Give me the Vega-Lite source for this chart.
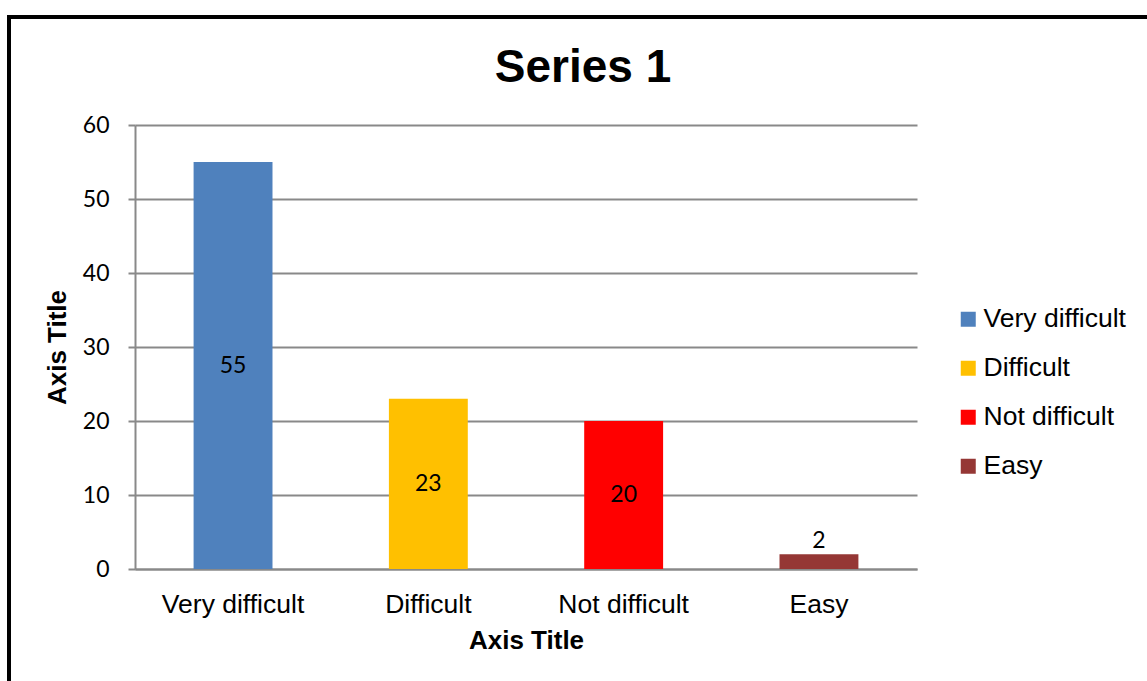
{
  "$schema": "https://vega.github.io/schema/vega-lite/v6.json",
  "width": 1138,
  "height": 664,
  "autosize": {"type": "none"},
  "padding": {"left": 9, "top": 17, "right": 0, "bottom": 0},
  "background": "white",
  "title": {
    "text": "Series 1",
    "font": "Liberation Sans",
    "fontSize": 46,
    "fontWeight": "bold",
    "color": "black",
    "anchor": "middle",
    "baseline": "alphabetic",
    "offset": -65,
    "dx": 5,
    "dy": 46
  },
  "config": {
    "view": {
      "stroke": "black",
      "strokeWidth": 4,
      "strokeDash": [1138, 1802, 664],
      "strokeCap": "square",
      "fill": "white"
    }
  },
  "data": {
    "values": [
      {"category": "Very difficult", "value": 55},
      {"category": "Difficult", "value": 23},
      {"category": "Not difficult", "value": 20},
      {"category": "Easy", "value": 2}
    ]
  },
  "encoding": {
    "x": {
      "field": "category",
      "type": "nominal",
      "sort": ["Very difficult", "Difficult", "Not difficult", "Easy"],
      "scale": {"range": [126, 908], "paddingInner": 0.596, "paddingOuter": 0.3},
      "axis": {
        "orient": "bottom",
        "offset": -112,
        "title": "Axis Title",
        "titleFont": "Liberation Sans",
        "titleFontSize": 26,
        "titleFontWeight": "bold",
        "titleColor": "black",
        "titleY": 79,
        "titleBaseline": "alphabetic",
        "labelFont": "Liberation Sans",
        "labelFontSize": 26.5,
        "labelColor": "black",
        "labelAngle": 0,
        "labelPadding": 22,
        "ticks": false,
        "tickSize": 0,
        "domainColor": "#898989",
        "domainWidth": 2,
        "grid": false
      }
    }
  },
  "layer": [
    {
      "mark": {"type": "bar"},
      "encoding": {
        "y": {
          "field": "value",
          "type": "quantitative",
          "title": "Axis Title",
          "scale": {"domain": [0, 60], "range": [552, 108], "nice": false, "zero": true},
          "axis": {
            "orient": "left",
            "offset": -126,
            "title": "Axis Title",
            "titleFont": "Liberation Sans",
            "titleFontSize": 26,
            "titleFontWeight": "bold",
            "titleColor": "black",
            "titleX": -70,
            "titleBaseline": "alphabetic",
            "values": [0, 10, 20, 30, 40, 50, 60],
            "labelFont": "Lato",
            "labelFontSize": 23,
            "labelColor": "black",
            "labelPadding": 19,
            "tickSize": 7,
            "tickColor": "#898989",
            "tickWidth": 2,
            "domainColor": "#898989",
            "domainWidth": 2,
            "grid": true,
            "gridColor": "#898989",
            "gridWidth": 2
          }
        },
        "color": {
          "field": "category",
          "type": "nominal",
          "scale": {
            "domain": ["Very difficult", "Difficult", "Not difficult", "Easy"],
            "range": ["#4F81BD", "#FFC000", "#FF0000", "#953735"]
          },
          "legend": {
            "orient": "none",
            "legendX": 946,
            "legendY": 289,
            "title": null,
            "padding": 0,
            "symbolType": "square",
            "symbolSize": 225,
            "symbolStrokeWidth": 0,
            "symbolOpacity": 1,
            "labelFont": "Liberation Sans",
            "labelFontSize": 26.5,
            "labelColor": "black",
            "labelOffset": 2,
            "rowPadding": 22
          }
        }
      }
    },
    {
      "transform": [{"filter": "datum.value > 5"}],
      "mark": {"type": "text", "font": "Lato", "fontSize": 23, "color": "black", "baseline": "middle", "align": "center"},
      "encoding": {
        "y": {"field": "value", "type": "quantitative", "stack": "zero", "bandPosition": 0.5, "title": "Axis Title"},
        "text": {"field": "value", "type": "quantitative"}
      }
    },
    {
      "transform": [{"filter": "datum.value <= 5"}],
      "mark": {"type": "text", "font": "Lato", "fontSize": 23, "color": "black", "baseline": "middle", "align": "center", "dy": -13},
      "encoding": {
        "y": {"field": "value", "type": "quantitative", "title": "Axis Title"},
        "text": {"field": "value", "type": "quantitative"}
      }
    }
  ]
}
